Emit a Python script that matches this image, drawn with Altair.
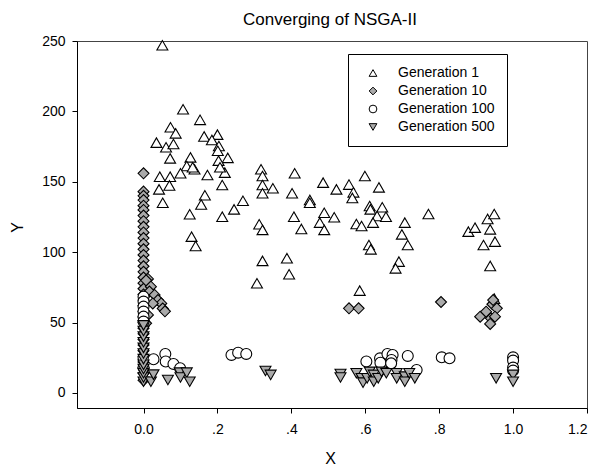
import altair as alt
import pandas as pd

# ---- data ----
g1_x = [0.051, 0.107, 0.153, 0.073, 0.087, 0.035, 0.061, 0.081, 0.164, 0.200, 0.185, 0.204, 0.201,
        0.072, 0.127, 0.228, 0.203, 0.117, 0.138, 0.133, 0.100, 0.044, 0.072, 0.173, 0.220, 0.207,
        0.042, 0.070, 0.213, 0.166, 0.052, 0.156, 0.269, 0.318, 0.322, 0.409, 0.322, 0.350, 0.322,
        0.402, 0.486, 0.522, 0.450, 0.450, 0.556, 0.125, 0.213, 0.245, 0.130, 0.141,
        0.599, 0.637, 0.568, 0.565, 0.489, 0.516, 0.477, 0.489, 0.427, 0.576, 0.590, 0.612, 0.614,
        0.646, 0.632, 0.656, 0.621, 0.707, 0.699, 0.715, 0.610, 0.615, 0.691, 0.682, 0.771, 0.879,
        0.897, 0.931, 0.949, 0.938, 0.920, 0.951, 0.938, 0.585, 0.949,
        0.407, 0.313, 0.322, 0.322, 0.388, 0.394, 0.307]
g1_y = [247, 201.5, 194, 188.7, 184.4, 177.8, 174.5, 176.8, 182.2, 183.5, 179.7, 175.4, 172,
        166.6, 167.3, 167, 165, 161.2, 158.9, 160.3, 156, 153.6, 153.6, 154.8, 156.5, 160.3,
        144.6, 147.4, 147.7, 140.4, 135.1, 133.9, 136.5, 158.9, 154.1, 156, 147.7, 145.4, 141.8,
        141.8, 149.4, 144.6, 137.1, 135.1, 148, 126.9, 125.2, 130.4, 111, 104.4,
        154.1, 146, 142.5, 138.5, 128, 124.8, 121, 115.8, 116.5, 120, 118.6, 132.8, 130.4,
        131.9, 125.7, 125.2, 121, 121, 112.6, 105.1, 105.1, 102, 93.3, 88.5, 127.1, 114.6,
        117.4, 123.6, 127.1, 116.2, 105.1, 107.5, 90.2, 72.7, 67,
        125.2, 119.8, 115.8, 93.8, 95.7, 84.3, 77.9]

g10_x = [0.0] * 36 + [0.012, 0.007, 0.020, 0.016, 0.030, 0.039, 0.048, 0.052, 0.025, 0.012, 0.007, 0.058,
                      0.556, 0.582, 0.805, 0.911, 0.927, 0.940, 0.938, 0.944, 0.956, 0.951, 0.946]
g10_y = [156, 143, 140, 137, 133, 130, 126, 122, 118, 114, 110, 106, 102, 98, 94, 90, 86, 82,
         78, 74, 70, 66, 62, 58, 54, 50, 46, 42, 38, 34, 30, 26, 22, 18, 14, 9] + \
        [81, 80, 75.5, 72, 69.6, 66, 63.6, 60, 63.6, 55.4, 49.5, 58,
         60.1, 60.1, 64.6, 54.2, 57.7, 53, 49, 63, 60.1, 54.2, 66]

g100_x = [0.0] * 8 + [0.027, 0.059, 0.060, 0.081, 0.099, 0.238, 0.256, 0.278,
                      0.603, 0.640, 0.641, 0.660, 0.674, 0.671, 0.670, 0.715, 0.739, 0.807, 0.828,
                      1.0, 1.0, 1.0, 1.0]
g100_y = [68.4, 64.9, 61.3, 57.8, 54.2, 50.7, 25, 18] + \
         [23.9, 27.7, 22.3, 20.6, 17.5, 27, 28.6, 27.7,
          22.3, 24.6, 21.5, 27.7, 27, 23.4, 21, 26.3, 16.3, 25.3, 24.6,
          25.3, 23, 18, 15.9]

g500_x = [0.0] * 12 + [0.020, 0.027, 0.066, 0.098, 0.100, 0.117, 0.125, 0.330, 0.344, 0.533, 0.533,
                       0.576, 0.590, 0.594, 0.605, 0.612, 0.623, 0.623, 0.635, 0.644, 0.657, 0.685,
                       0.685, 0.707, 0.707, 0.719, 0.734, 0.954, 1.0, 1.0]
g500_y = [8, 11, 14, 17, 20, 24, 28, 32, 36, 40, 44, 48] + \
         [8, 13, 9.2, 14.4, 11, 14.4, 8, 15.6, 12.8, 13.5, 11,
          14, 10.4, 7.3, 10.4, 15, 12.8, 8, 10.4, 15, 14, 14,
          10.4, 11.6, 8, 14, 10.4, 10.4, 12.8, 8]

series = ["Generation 1", "Generation 10", "Generation 100", "Generation 500"]
shapes = ["triangle-up", "diamond", "circle", "triangle-down"]
fills = ["white", "#aaaaaa", "white", "#aaaaaa"]
strokes = ["black", "black", "black", "black"]

x_ticks = [0.0, 0.2, 0.4, 0.6, 0.8, 1.0, 1.2]
x_tick_labels = ["0.0", ".2", ".4", ".6", ".8", "1.0", "1.2"]
y_ticks = [0, 50, 100, 150, 200, 250]

frames = []
for name, xs, ys in zip(series, [g1_x, g10_x, g100_x, g500_x], [g1_y, g10_y, g100_y, g500_y]):
    frames.append(pd.DataFrame({"x": xs, "y": ys, "gen": name}))
df = pd.concat(frames, ignore_index=True)
df["order"] = df["gen"].map({s: i for i, s in enumerate(series)})

label_expr = " : ".join(
    f"abs(datum.value - {v}) < 1e-6 ? '{l}'" for v, l in zip(x_ticks, x_tick_labels)
) + " : ''"

FONT = "Liberation Sans"

legend = alt.Legend(
    title=None, orient="none", legendX=271, legendY=13,
    padding=12, symbolOffset=6, labelOffset=18, rowPadding=4,
    strokeColor="black", fillColor="white",
    symbolSize=60, symbolStrokeWidth=1,
    labelFontSize=14, labelFont=FONT, labelColor="black",
)

chart = alt.Chart(df).mark_point(filled=True, strokeWidth=1.1, size=120, opacity=1).encode(
    x=alt.X("x:Q", scale=alt.Scale(domain=[-0.18, 1.2], nice=False, zero=False),
            axis=alt.Axis(title="X", values=x_ticks, labelExpr=label_expr, grid=False,
                          tickSize=5, labelPadding=9, titleX=253, titleY=50,
                          titleBaseline="middle", titleAnchor="middle")),
    y=alt.Y("y:Q", scale=alt.Scale(domain=[-10.7, 250], nice=False, zero=False),
            axis=alt.Axis(title="Y", values=y_ticks, grid=False, tickSize=5, labelPadding=7,
                          titleX=-60, titleY=186, titleBaseline="middle", titleAngle=-90,
                          titleAnchor="middle")),
    shape=alt.Shape("gen:N", scale=alt.Scale(domain=series, range=shapes), legend=legend),
    fill=alt.Fill("gen:N", scale=alt.Scale(domain=series, range=fills), legend=legend),
    stroke=alt.Stroke("gen:N", scale=alt.Scale(domain=series, range=strokes), legend=legend),
    order=alt.Order("order:Q"),
).properties(
    width=510, height=367,
    title=alt.TitleParams("Converging of NSGA-II", fontSize=17, font=FONT, fontWeight="normal",
                          color="black", frame="group", anchor="middle", offset=5, dx=-2),
    autosize=alt.AutoSizeParams(type="none"),
    padding={"left": 69, "top": 33, "right": 1, "bottom": 62},
).configure_axis(
    domainColor="black", tickColor="black", labelColor="black", titleColor="black",
    labelFont=FONT, titleFont=FONT, labelFontSize=14, titleFontSize=16, titleFontWeight="normal",
    domainWidth=1, tickWidth=1,
).configure_view(
    stroke="#444444", strokeWidth=1,
)

chart.save("out.html", embed_options={"renderer": "svg", "actions": False})
